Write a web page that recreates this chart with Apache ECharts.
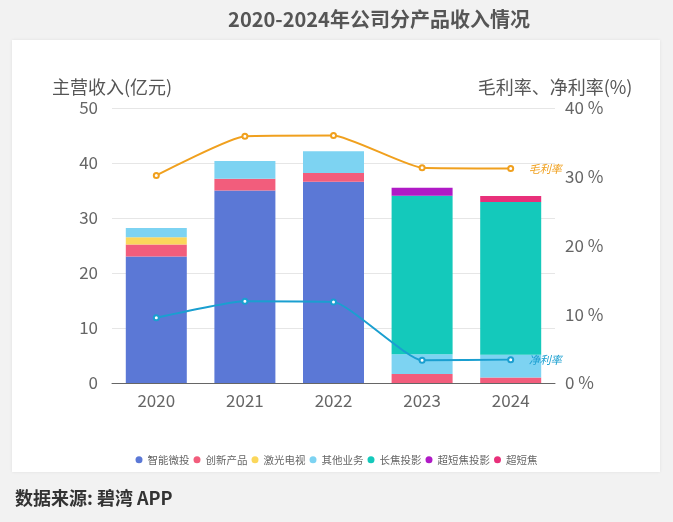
<!DOCTYPE html>
<html>
<head>
<meta charset="utf-8">
<title>2020-2024年公司分产品收入情况</title>
<script src="https://cdn.jsdelivr.net/npm/echarts@6/dist/echarts.min.js"></script>
<style>
html, body { margin: 0; padding: 0; background: #f2f2f2; }
#main { width: 673px; height: 522px; }
</style>
</head>
<body>
<div id="main"></div>
<script type="text/javascript">
// 年份
var years = ['2020', '2021', '2022', '2023', '2024'];
// 各产品收入(亿元)
var smartProj = [23.0, 35.0, 36.6, 0, 0];       // 智能微投
var innovation = [2.2, 2.15, 1.6, 1.65, 1.0];    // 创新产品
var laserTv = [1.3, 0, 0, 0, 0];                 // 激光电视
var otherBiz = [1.7, 3.2, 3.95, 3.6, 4.15];      // 其他业务
var longFocus = [0, 0, 0, 28.8, 27.75];          // 长焦投影
var ultraShortProj = [0, 0, 0, 1.45, 0];         // 超短焦投影
var ultraShort = [0, 0, 0, 0, 1.1];              // 超短焦
// 毛利率、净利率(%)
var grossMargin = [30.2, 35.9, 36.0, 31.3, 31.2];
var netMargin = [9.5, 11.9, 11.8, 3.3, 3.4];

var chart = echarts.init(document.getElementById('main'));

function barSeries(name, data, color) {
    return {
        name: name,
        type: 'bar',
        stack: 'rev',
        barWidth: 61,
        itemStyle: { color: color },
        data: data.map(function (v) { return v === 0 ? null : v; })
    };
}

function lineSeries(name, data, color) {
    return {
        name: name,
        type: 'line',
        yAxisIndex: 1,
        smooth: 0.15,
        symbol: 'emptyCircle',
        symbolSize: 5,
        lineStyle: { color: color, width: 2 },
        itemStyle: { color: color },
        endLabel: {
            show: true,
            formatter: '{a}',
            color: color,
            fontStyle: 'italic',
            fontSize: 11,
            offset: [10, 0]
        },
        z: 5,
        data: data
    };
}

var option = {
    backgroundColor: '#f2f2f2',
    textStyle: { fontFamily: '"Noto Sans CJK SC", "Noto Sans", sans-serif' },
    title: {
        text: '2020-2024年公司分产品收入情况',
        left: 374,
        top: 4,
        textAlign: 'center',
        textStyle: { fontSize: 20, fontWeight: 'bold', color: '#555' }
    },
    graphic: [
        {
            type: 'rect',
            z: -10,
            shape: { x: 12, y: 40, width: 648, height: 432 },
            style: { fill: '#fff', shadowBlur: 3, shadowColor: 'rgba(0,0,0,0.08)' }
        },
        {
            type: 'text',
            left: 15,
            top: 489,
            style: { text: '数据来源: 碧湾 APP', fill: '#333',
                     font: 'bold 18px "Noto Sans CJK SC", sans-serif' }
        }
    ],
    legend: {
        bottom: 52,
        left: 'center',
        itemWidth: 7,
        itemHeight: 7,
        itemGap: 4,
        icon: 'circle',
        textStyle: { fontSize: 10.5, color: '#666' },
        data: ['智能微投', '创新产品', '激光电视', '其他业务', '长焦投影', '超短焦投影', '超短焦']
    },
    grid: { left: 112, right: 118, top: 108, bottom: 139 },
    xAxis: {
        type: 'category',
        data: years,
        axisTick: { show: false },
        axisLine: { lineStyle: { color: '#666' } },
        axisLabel: { fontSize: 17, color: '#666', margin: 9 }
    },
    yAxis: [
        {
            type: 'value',
            name: '主营收入(亿元)',
            nameGap: 12,
            nameTextStyle: { fontSize: 18, color: '#555', align: 'center' },
            min: 0, max: 50, interval: 10,
            axisLabel: { fontSize: 17, color: '#666', margin: 14 },
            splitLine: { lineStyle: { color: '#e6e6e6' } }
        },
        {
            type: 'value',
            name: '毛利率、净利率(%)',
            nameGap: 12,
            nameTextStyle: { fontSize: 18, color: '#555', align: 'center' },
            min: 0, max: 40, interval: 10,
            axisLabel: { fontSize: 17, color: '#666', formatter: '{value} %', margin: 10 },
            splitLine: { show: false }
        }
    ],
    series: [
        barSeries('智能微投', smartProj, '#5b78d6'),
        barSeries('创新产品', innovation, '#f25d7c'),
        barSeries('激光电视', laserTv, '#fbd75b'),
        barSeries('其他业务', otherBiz, '#7dd3f2'),
        barSeries('长焦投影', longFocus, '#14c9bb'),
        barSeries('超短焦投影', ultraShortProj, '#b01ac6'),
        barSeries('超短焦', ultraShort, '#e8307a'),
        lineSeries('毛利率', grossMargin, '#f0a01e'),
        lineSeries('净利率', netMargin, '#1a9fd0')
    ]
};

chart.setOption(option);
</script>
</body>
</html>
